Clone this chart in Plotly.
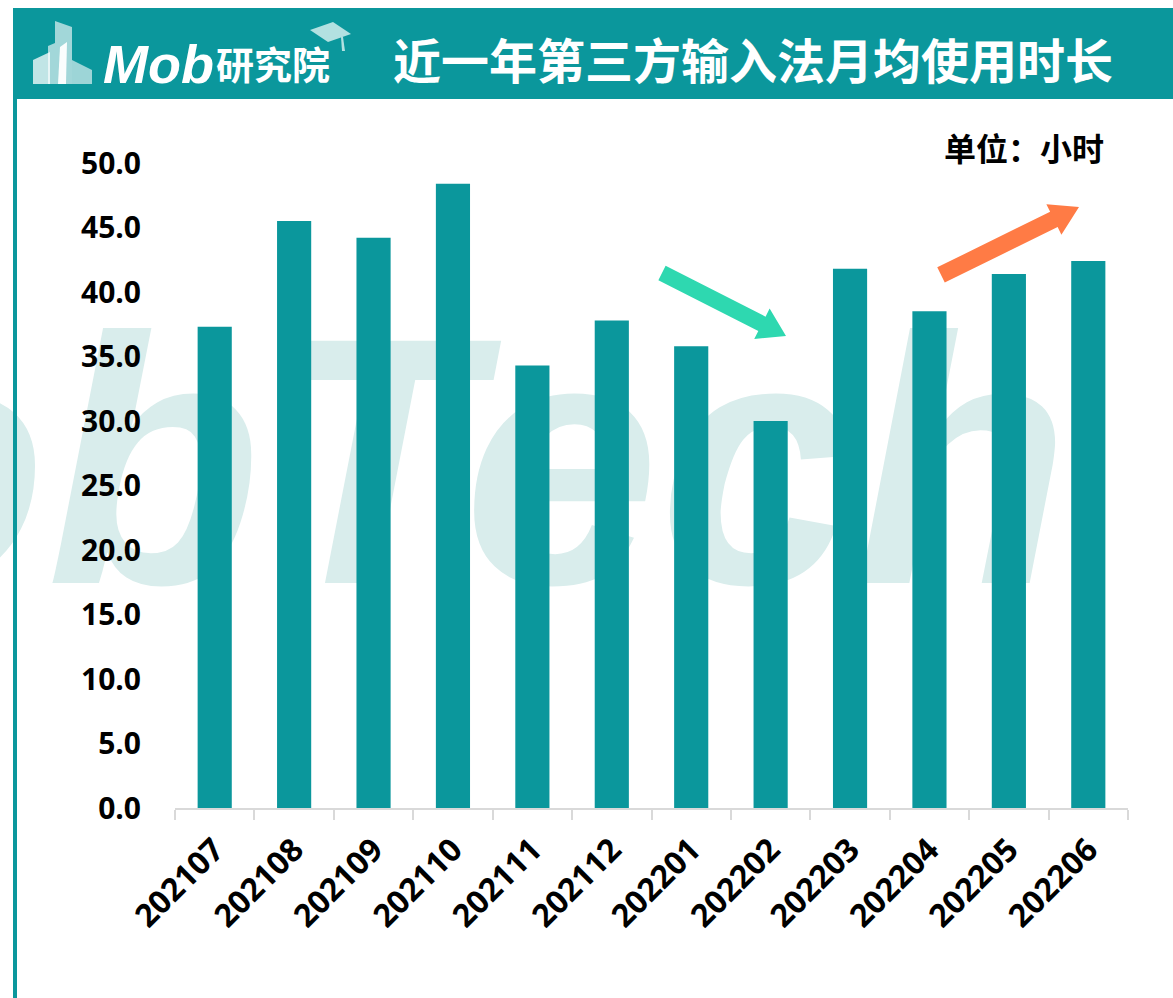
import math
import plotly.graph_objects as go

# ---------------- data ----------------
months = ["202107", "202108", "202109", "202110", "202111", "202112",
          "202201", "202202", "202203", "202204", "202205", "202206"]
hours = [37.3, 45.5, 44.2, 48.4, 34.3, 37.8, 35.8, 30.0, 41.8, 38.5, 41.4, 42.4]
y_ticks = [0, 5, 10, 15, 20, 25, 30, 35, 40, 45, 50]
y_tick_text = [f"{v:.1f}" for v in y_ticks]

title_text = "近一年第三方输入法月均使用时长"
unit_text = "单位：小时"
logo_latin = "Mob"
logo_cjk = "研究院"
watermark = "MobTech"

TEAL = "#0b979c"
W, H = 1173, 998
ML, MR, MT, MB = 175, 45, 163, 190
PW, PH = W - ML - MR, H - MT - MB


def P(x, y):
    """page pixel -> paper coords"""
    return (x - ML) / PW, 1 - (y - MT) / PH


def path(points):
    s = ""
    for i, (x, y) in enumerate(points):
        px, py = P(x, y)
        s += ("M" if i == 0 else "L") + f"{px:.5f},{py:.5f} "
    return s + "Z"


def arrow(tail, tip, half_w, head_len, head_half):
    dx, dy = tip[0] - tail[0], tip[1] - tail[1]
    L = math.hypot(dx, dy)
    ux, uy = dx / L, dy / L
    nx, ny = -uy, ux
    bx, by = tip[0] - ux * head_len, tip[1] - uy * head_len
    pts = [
        (tail[0] + nx * half_w, tail[1] + ny * half_w),
        (bx + nx * half_w, by + ny * half_w),
        (bx + nx * head_half, by + ny * head_half),
        tip,
        (bx - nx * head_half, by - ny * head_half),
        (bx - nx * half_w, by - ny * half_w),
        (tail[0] - nx * half_w, tail[1] - ny * half_w),
    ]
    return path(pts)


fig = go.Figure()
fig.add_trace(go.Bar(
    x=months, y=hours, marker=dict(color=TEAL, line=dict(width=0)),
    hoverinfo="x+y",
))

shapes = []
# watermark (behind bars)
wx0, wy0 = P(-715, 288)
wx1, wy1 = P(1323, 568)
shapes.append(dict(
    type="rect", xref="paper", yref="paper", x0=wx0, x1=wx1, y0=wy1, y1=wy0,
    line=dict(width=0), fillcolor="rgba(0,0,0,0)", layer="below",
    label=dict(text=watermark, textposition="middle center", textangle=0,
               font=dict(family="Liberation Sans", size=352, color="#d9edec",
                         weight="bold", style="italic")),
))
# header band
hx0, hy0 = P(13, 8)
hx1, hy1 = P(W + 5, 99)
shapes.append(dict(type="rect", xref="paper", yref="paper", x0=hx0, x1=hx1,
                   y0=hy1, y1=hy0, fillcolor=TEAL, line=dict(width=0), layer="above"))
# left border
bx0, by0 = P(13, 8)
bx1, by1 = P(17, H + 5)
shapes.append(dict(type="rect", xref="paper", yref="paper", x0=bx0, x1=bx1,
                   y0=by1, y1=by0, fillcolor=TEAL, line=dict(width=0), layer="above"))
# logo building icon
shapes.append(dict(type="path", xref="paper", yref="paper",
                   path=path([(55, 21), (72, 27), (72, 84), (48, 84), (48, 46), (55, 43)]),
                   fillcolor="rgba(255,255,255,0.62)", line=dict(width=0)))
shapes.append(dict(type="path", xref="paper", yref="paper",
                   path=path([(33, 84), (33, 60), (50, 52), (50, 84)]),
                   fillcolor="rgba(255,255,255,0.75)", line=dict(width=0)))
shapes.append(dict(type="path", xref="paper", yref="paper",
                   path=path([(72, 60), (92, 70), (92, 84), (72, 84)]),
                   fillcolor="rgba(255,255,255,0.6)", line=dict(width=0)))
shapes.append(dict(type="path", xref="paper", yref="paper",
                   path=path([(60, 47), (67, 42), (66, 84), (58, 84)]),
                   fillcolor="rgba(255,255,255,0.95)", line=dict(width=0)))
# graduation cap
shapes.append(dict(type="path", xref="paper", yref="paper",
                   path=path([(310, 30), (333, 22), (351, 34), (328, 42)]),
                   fillcolor="#b3e1e1", line=dict(width=0)))
shapes.append(dict(type="path", xref="paper", yref="paper",
                   path=path([(341, 37), (343, 37), (345, 51), (342, 51)]),
                   fillcolor="#b3e1e1", line=dict(width=0)))
# trend arrows
shapes.append(dict(type="path", xref="paper", yref="paper",
                   path=arrow((662, 273), (786, 336), 8, 27, 17),
                   fillcolor="#2ed8b0", line=dict(width=0)))
shapes.append(dict(type="path", xref="paper", yref="paper",
                   path=arrow((941, 275), (1079, 207), 8.5, 28, 17),
                   fillcolor="#ff7b45", line=dict(width=0)))

annotations = []
tx, ty = P(753, 58)
annotations.append(dict(text=f"<b>{title_text}</b>", xref="paper", yref="paper",
                        x=tx, y=ty, xanchor="center", yanchor="middle", showarrow=False,
                        font=dict(family="Noto Sans CJK SC", size=48, color="white")))
lx, ly = P(101, 64)
annotations.append(dict(text=f"<b><i>{logo_latin}</i></b>", xref="paper", yref="paper",
                        x=lx, y=ly, xanchor="left", yanchor="middle", showarrow=False,
                        font=dict(family="Liberation Sans", size=54, color="white")))
cx, cy = P(214, 63)
annotations.append(dict(text=f"<b>{logo_cjk}</b>", xref="paper", yref="paper",
                        x=cx, y=cy, xanchor="left", yanchor="middle", showarrow=False,
                        font=dict(family="Noto Sans CJK SC", size=38, color="white")))
ux, uy = P(1106, 147)
annotations.append(dict(text=f"<b>{unit_text}</b>", xref="paper", yref="paper",
                        x=ux, y=uy, xanchor="right", yanchor="middle", showarrow=False,
                        font=dict(family="Noto Sans CJK SC", size=32, color="black")))

fig.update_layout(
    width=W, height=H,
    margin=dict(l=ML, r=MR, t=MT, b=MB, autoexpand=False),
    paper_bgcolor="white", plot_bgcolor="rgba(0,0,0,0)",
    showlegend=False, bargap=0.57,
    shapes=shapes, annotations=annotations,
    xaxis=dict(
        type="category", showgrid=False, showline=True, linecolor="#d9d9d9", linewidth=2,
        ticks="outside", tickson="boundaries", ticklen=10, tickcolor="#d9d9d9", tickwidth=2,
        tickangle=-45, ticklabelstandoff=8,
        tickfont=dict(family="Open Sans", size=32, color="black", weight="bold"),
        zeroline=False,
    ),
    yaxis=dict(
        range=[0, 50], tickvals=y_ticks, ticktext=y_tick_text, showgrid=False,
        showline=False, zeroline=False, ticks="", ticklabelstandoff=33,
        tickfont=dict(family="Open Sans", size=30, color="black", weight="bold"),
    ),
)

fig.write_html("out.html")
